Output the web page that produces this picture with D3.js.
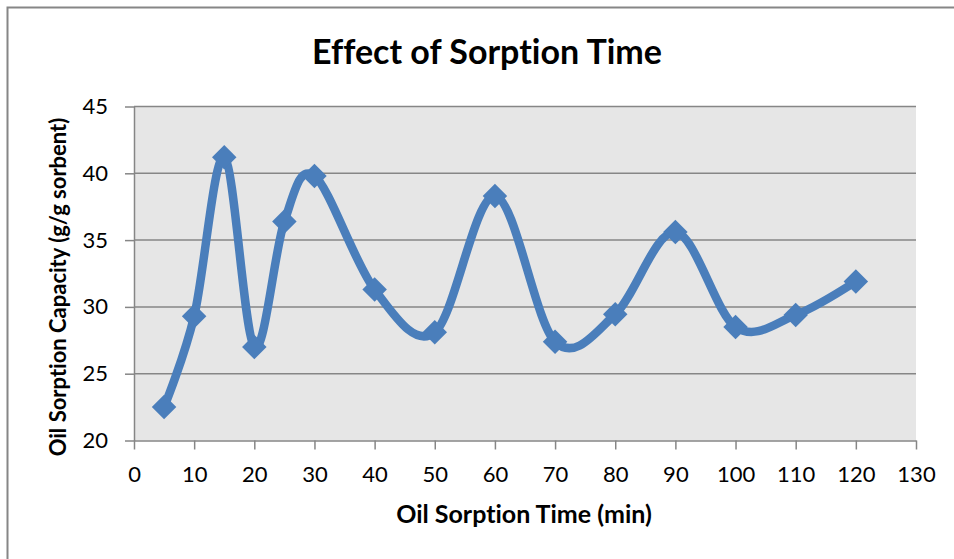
<!DOCTYPE html>
<html>
<head>
<meta charset="utf-8">
<script src="https://cdn.jsdelivr.net/npm/d3@7"></script>
<style>
  body { margin: 0; background: #fff; }
  text { font-family: Lato, "Open Sans", sans-serif; fill: #000; font-variant-ligatures: none; }
</style>
</head>
<body>
<div id="chart"></div>
<script>
var width = 954, height = 559;

// data
var times = [5, 10, 15, 20, 25, 30, 40, 50, 60, 70, 80, 90, 100, 110, 120];
var capacity = [22.5, 29.3, 41.2, 27.0, 36.4, 39.8, 31.3, 28.1, 38.3, 27.4, 29.45, 35.6, 28.5, 29.4, 31.9];
var xTicks = [0, 10, 20, 30, 40, 50, 60, 70, 80, 90, 100, 110, 120, 130];
var yTicks = [20, 25, 30, 35, 40, 45];

var margin = {left: 134, right: 38, top: 106.5, bottom: 118.5};
var blue = "#4a7ebb";
var grey = "#868686";

var svg = d3.select("#chart").append("svg")
	.attr("width", width)
	.attr("height", height);

// chart border (only left and top show in the shot)
svg.append("rect")
	.attr("x", 7.5).attr("y", 7.5)
	.attr("width", width + 10).attr("height", height + 10)
	.attr("fill", "#fff")
	.attr("stroke", grey)
	.attr("stroke-width", 2);

var x = d3.scaleLinear().domain([0, 130]).range([margin.left, width - margin.right]);
var y = d3.scaleLinear().domain([20, 45]).range([height - margin.bottom, margin.top]);

// plot area
svg.append("rect")
	.attr("x", x(0)).attr("y", y(45))
	.attr("width", x(130) - x(0))
	.attr("height", y(20) - y(45))
	.attr("fill", "#e6e6e6");

// gridlines
svg.append("g")
	.selectAll("line")
	.data(yTicks.slice(1))
	.enter().append("line")
	.attr("x1", x(0)).attr("x2", x(130))
	.attr("y1", function(d) { return y(d); })
	.attr("y2", function(d) { return y(d); })
	.attr("stroke", grey)
	.attr("stroke-width", 1.5);

// axes
var xAxis = svg.append("g")
	.attr("transform", "translate(0," + y(20) + ")")
	.call(d3.axisBottom(x).tickValues(xTicks).tickSize(9).tickPadding(17).tickSizeOuter(0));
var yAxis = svg.append("g")
	.attr("transform", "translate(" + x(0) + ",0)")
	.call(d3.axisLeft(y).tickValues(yTicks).tickSize(9).tickPadding(17).tickSizeOuter(0));

[xAxis, yAxis].forEach(function(a) {
	a.select(".domain").attr("stroke", grey).attr("stroke-width", 1.5);
	a.selectAll(".tick line").attr("stroke", grey).attr("stroke-width", 1.5);
	a.selectAll(".tick text")
		.style("font-family", "Lato, sans-serif")
		.style("font-size", "22px")
		.attr("fill", "#000");
});

// smoothed line like excel
var pts = times.map(function(t, i) { return [t, capacity[i]]; });
var line = d3.line()
	.x(function(d) { return x(d[0]); })
	.y(function(d) { return y(d[1]); })
	.curve(d3.curveCardinal.tension(0));

svg.append("path")
	.datum(pts)
	.attr("d", line)
	.attr("fill", "none")
	.attr("stroke", blue)
	.attr("stroke-width", 8.5)
	.attr("stroke-linejoin", "round");

// diamond markers
var diamond = d3.symbol().type(d3.symbolSquare).size(300);
svg.append("g")
	.selectAll("path")
	.data(pts)
	.enter().append("path")
	.attr("d", diamond)
	.attr("transform", function(d) { return "translate(" + x(d[0]) + "," + y(d[1]) + ") rotate(45)"; })
	.attr("fill", blue);

// titles
svg.append("text")
	.attr("x", 487).attr("y", 64)
	.attr("text-anchor", "middle")
	.style("font-size", "34px")
	.style("font-weight", "bold")
	.text("Effect of Sorption Time");

svg.append("text")
	.attr("x", 524).attr("y", 523)
	.attr("text-anchor", "middle")
	.style("font-size", "25px")
	.style("font-weight", "bold")
	.text("Oil Sorption Time (min)");

svg.append("text")
	.attr("transform", "translate(66,287) rotate(-90)")
	.attr("text-anchor", "middle")
	.style("font-size", "22px")
	.style("font-weight", "bold")
	.text("Oil Sorption Capacity (g/g sorbent)");
</script>
</body>
</html>
